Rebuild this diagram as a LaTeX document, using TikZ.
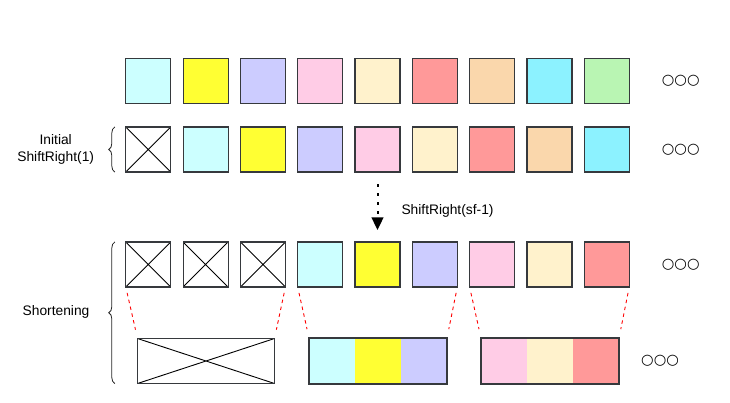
\documentclass[tikz,border=0pt]{standalone}
\usepackage{fontspec}
\setmainfont{Liberation Sans}
\newfontfamily\dotsfont{DejaVu Sans}
\usepackage{tikz}
\usetikzlibrary{arrows.meta, positioning, decorations.pathreplacing, fit}
\definecolor{frameGrey}{HTML}{36393D}
\definecolor{cellCyan}{HTML}{CCFFFF}
\definecolor{cellYellow}{HTML}{FFFF33}
\definecolor{cellLilac}{HTML}{CCCCFF}
\definecolor{cellPink}{HTML}{FFCCE6}
\definecolor{cellCream}{HTML}{FFF2CC}
\definecolor{cellRed}{HTML}{FF9999}
\definecolor{cellPeach}{HTML}{FAD7AC}
\definecolor{cellAqua}{HTML}{8CF2FF}
\definecolor{cellGreen}{HTML}{B9F5B3}
\tikzset{
	cell/.style={rectangle, draw=frameGrey, line width=1.2pt, minimum width=45pt, minimum height=45pt, inner sep=0pt, outer sep=0pt},
	crossed/.style={cell, fill=white, path picture={\draw[black, line width=0.9pt] (path picture bounding box.north west) -- (path picture bounding box.south east) (path picture bounding box.south west) -- (path picture bounding box.north east);}},
	strip/.style={rectangle, minimum width=46pt, minimum height=46pt, inner sep=0pt, outer sep=0pt},
	frame/.style={rectangle, draw=frameGrey, line width=1.2pt, inner sep=0pt, outer sep=0pt},
	more/.style={font=\dotsfont\fontsize{14.4}{16}\selectfont, inner sep=0pt},
	caption/.style={font=\fontsize{13.8}{16.5}\selectfont, align=center, inner sep=2pt},
	bracket/.style={decorate, decoration={brace, amplitude=6pt}, line width=0.8pt, draw=black!85},
	split/.style={red, line width=0.9pt, dash pattern=on 3.5pt off 3.5pt, shorten <=6pt, shorten >=9pt},
	arrow/.style={line width=2pt, dash pattern=on 3pt off 6pt, -{Triangle[length=12.6pt, width=11.7pt]}, shorten <=12pt, shorten >=12pt}
}
\begin{document}
\begin{tikzpicture}[x=1pt, y=-1pt, node distance=12.3pt]
	\useasboundingbox (0,0) rectangle (730,402);

	% Input sequence
	\node[cell, fill=cellCyan] (a1) at (148.3,81.2) {};
	\foreach \c [count=\i from 2, remember=\i as \j (initially 1)] in {cellYellow,cellLilac,cellPink,cellCream,cellRed,cellPeach,cellAqua,cellGreen}
		\node[cell, fill=\c, right=of a\j] (a\i) {};
	\node[more, right=32.5pt of a9] (a10) {○○○};

	% Initial ShiftRight(1)
	\node[crossed] (b1) at (148.3,149.5) {};
	\foreach \c [count=\i from 2, remember=\i as \j (initially 1)] in {cellCyan,cellYellow,cellLilac,cellPink,cellCream,cellRed,cellPeach,cellAqua}
		\node[cell, fill=\c, right=of b\j] (b\i) {};
	\node[more, right=32.5pt of b9] (b10) {○○○};

	% After ShiftRight(sf-1)
	\node[crossed] (c1) at (148.3,264.5) {};
	\node[crossed, right=of c1] (c2) {};
	\node[crossed, right=of c2] (c3) {};
	\foreach \c [count=\i from 4, remember=\i as \j (initially 3)] in {cellCyan,cellYellow,cellLilac,cellPink,cellCream,cellRed}
		\node[cell, fill=\c, right=of c\j] (c\i) {};
	\node[more, right=32.5pt of c9] (c10) {○○○};

	% Shortened blocks
	\node[crossed, minimum width=137pt] (d1) at (206,361) {};
	\node[strip, fill=cellCyan] (d2a) at (332,361) {};
	\node[strip, fill=cellYellow, right=0pt of d2a] (d2b) {};
	\node[strip, fill=cellLilac, right=0pt of d2b] (d2c) {};
	\node[frame, fit=(d2a)(d2c)] (d2) {};
	\node[strip, fill=cellPink] (d3a) at (504,361) {};
	\node[strip, fill=cellCream, right=0pt of d3a] (d3b) {};
	\node[strip, fill=cellRed, right=0pt of d3b] (d3c) {};
	\node[frame, fit=(d3a)(d3c)] (d3) {};
	\node[more, right=22pt of d3] (d4) {○○○};

	% Red guides
	\draw[split] (c1.south west) -- (d1.north west);
	\draw[split] (c3.south east) -- (d1.north east);
	\draw[split] (c4.south west) -- (d2.north west);
	\draw[split] (c6.south east) -- (d2.north east);
	\draw[split] (c7.south west) -- (d3.north west);
	\draw[split] (c9.south east) -- (d3.north east);

	% Braces and labels
	\coordinate (braceLow) at (c1.west |- d1.south);
	\draw[bracket] ([xshift=-11pt]b1.south west) -- ([xshift=-11pt]b1.north west);
	\draw[bracket] ([xshift=-11pt]braceLow) -- ([xshift=-11pt]c1.north west);
	\node[caption] (initLabel) at (55.7,149.5) {Initial\\ShiftRight(1)};
	\node[caption] (shortLabel) at (56,312) {Shortening};

	% Dotted shift arrow
	\draw[arrow] (b5.south) -- node[caption, pos=0.55, right=21pt] {ShiftRight(sf-1)} (c5.north);
\end{tikzpicture}
\end{document}
